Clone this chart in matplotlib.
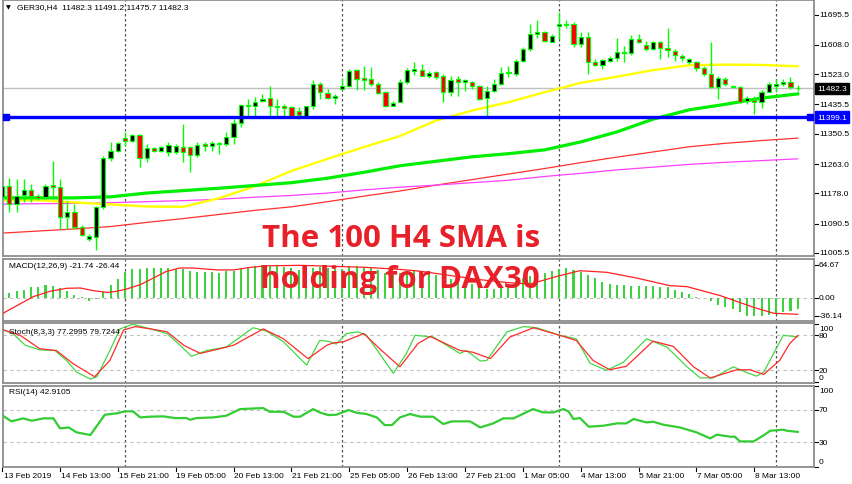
import matplotlib
matplotlib.use('Agg')
import matplotlib.pyplot as plt
from matplotlib.patches import Rectangle
import numpy as np

plt.rcParams['font.family'] = ['Liberation Sans', 'DejaVu Sans']

# ---------------- data ----------------
opens = [11167, 11200, 11147, 11173, 11189, 11171, 11167, 11202, 11196, 11109,
         11123, 11080, 11046, 11051, 11138, 11280, 11302, 11338, 11331, 11347,
         11280, 11309, 11300, 11297, 11297, 11312, 11312, 11289, 11321, 11316,
         11321, 11321, 11341, 11382, 11430, 11430, 11446, 11453, 11432, 11430,
         11427, 11417, 11401, 11431, 11495, 11468, 11453, 11480, 11488, 11536,
         11511, 11509, 11495, 11473, 11432, 11444, 11500, 11533, 11536, 11517,
         11529, 11519, 11471, 11509, 11501, 11501, 11488, 11453, 11475, 11495,
         11527, 11524, 11562, 11596, 11639, 11645, 11617, 11664, 11666, 11669,
         11611, 11630, 11559, 11550, 11562, 11569, 11585, 11585, 11625, 11608,
         11596, 11617, 11598, 11591, 11577, 11558, 11558, 11540, 11524, 11485,
         11509, 11490, 11485, 11446, 11449, 11442, 11473, 11490, 11495, 11501,
         11482.3]
highs = [11205, 11222, 11220, 11220, 11205, 11176, 11205, 11273, 11220, 11157,
         11147, 11087, 11060, 11142, 11287, 11326, 11328, 11355, 11350, 11350,
         11321, 11312, 11316, 11326, 11321, 11379, 11316, 11326, 11326, 11331,
         11326, 11355, 11393, 11437, 11451, 11456, 11466, 11488, 11451, 11437,
         11432, 11428, 11432, 11507, 11500, 11480, 11466, 11511, 11538, 11538,
         11548, 11543, 11501, 11475, 11446, 11509, 11540, 11559, 11553, 11533,
         11533, 11524, 11519, 11517, 11509, 11504, 11492, 11488, 11509, 11543,
         11548, 11567, 11601, 11669, 11681, 11649, 11640, 11704, 11681, 11674,
         11645, 11645, 11567, 11567, 11577, 11627, 11606, 11637, 11640, 11620,
         11620, 11620, 11656, 11596, 11582, 11569, 11562, 11548, 11617, 11519,
         11514, 11492, 11488, 11459, 11461, 11478, 11500, 11509, 11509, 11514,
         11491.2]
lows = [11162, 11123, 11124, 11153, 11153, 11160, 11162, 11162, 11075, 11075,
        11075, 11054, 11041, 11015, 11133, 11273, 11297, 11316, 11326, 11254,
        11268, 11297, 11297, 11287, 11292, 11268, 11239, 11283, 11302, 11302,
        11292, 11316, 11321, 11370, 11398, 11401, 11442, 11398, 11398, 11396,
        11398, 11393, 11398, 11422, 11451, 11451, 11437, 11480, 11485, 11478,
        11478, 11490, 11466, 11427, 11430, 11442, 11495, 11521, 11517, 11511,
        11509, 11442, 11461, 11461, 11475, 11480, 11448, 11401, 11471, 11492,
        11514, 11517, 11558, 11591, 11627, 11616, 11616, 11625, 11656, 11601,
        11601, 11524, 11548, 11538, 11558, 11562, 11558, 11579, 11614, 11591,
        11594, 11567, 11572, 11562, 11562, 11553, 11533, 11517, 11482, 11451,
        11488, 11484, 11440, 11437, 11408, 11424, 11471, 11471, 11488, 11480,
        11475.7]
closes = [11200, 11147, 11171, 11189, 11171, 11164, 11200, 11196, 11109, 11123,
          11080, 11058, 11056, 11138, 11280, 11302, 11324, 11331, 11347, 11280,
          11309, 11302, 11312, 11318, 11316, 11297, 11290, 11318, 11316, 11324,
          11324, 11340, 11382, 11434, 11434, 11444, 11451, 11430, 11427, 11426,
          11403, 11405, 11431, 11495, 11471, 11454, 11461, 11488, 11533, 11509,
          11507, 11495, 11469, 11430, 11440, 11500, 11536, 11538, 11519, 11527,
          11514, 11471, 11507, 11501, 11506, 11488, 11451, 11475, 11495, 11527,
          11530, 11562, 11596, 11640, 11645, 11620, 11635, 11669, 11669, 11611,
          11630, 11559, 11550, 11564, 11569, 11587, 11588, 11625, 11616, 11596,
          11616, 11598, 11594, 11579, 11569, 11567, 11540, 11524, 11485, 11511,
          11495, 11485, 11442, 11453, 11444, 11471, 11495, 11495, 11501, 11485,
          11482.3]

ma_bars = [0, 5, 10, 15, 20, 25, 30, 35, 40, 45, 50, 55, 60, 65, 70, 75, 80, 85,
           90, 95, 100, 105, 110]
ma_yellow = [11159, 11158, 11152, 11146, 11140, 11139, 11164, 11199, 11243, 11278,
             11312, 11344, 11389, 11418, 11442, 11471, 11498, 11516, 11535, 11549,
             11551, 11550, 11546]
ma_green = [11165, 11165, 11165, 11168, 11179, 11186, 11193, 11201, 11209, 11222,
            11239, 11258, 11271, 11284, 11293, 11304, 11327, 11356, 11393, 11420,
            11436, 11454, 11466]
ma_red = [11063, 11069, 11075, 11082, 11094, 11105, 11117, 11129, 11139, 11154,
          11170, 11185, 11202, 11218, 11234, 11250, 11267, 11283, 11298, 11313,
          11323, 11331, 11338]
ma_magenta = [11147, 11148, 11149, 11151, 11154, 11157, 11161, 11167, 11172, 11179,
              11188, 11196, 11202, 11209, 11216, 11227, 11236, 11246, 11254, 11262,
              11268, 11273, 11278]

support_level = 11399.1
last_price = 11482.3

macd_hist = [7.8, 9.1, 13, 15.7, 20.9, 22, 26, 24, 19.6, 14.4,
             6.5, 1, -5.2, -2, 11, 26, 37, 50, 56, 57,
             58.8, 58, 58.8, 58.8, 57, 57, 53.5, 50, 50, 50,
             48, 53.5, 53.5, 57, 61, 63.5, 64.67, 63.5, 63, 61,
             58, 55, 53, 58, 60, 58, 56, 57, 62, 63,
             61, 59, 55, 48, 45, 48, 53, 55, 52, 49,
             46, 40, 37, 34, 31, 27, 20, 17, 18, 22,
             27, 33, 39, 44, 47, 48.3, 52.2, 56.8, 58.8, 54.9,
             50.3, 45.7, 39.2, 30.7, 27.4, 26.1, 25.5, 24.2, 22.9, 22.9,
             22.9, 22.2, 20.9, 15.7, 12.4, 7.8, 2.6, 0.5, -6.5, -13,
             -18.3, -21.5, -28, -34.6, -36.14, -36.1, -32.7, -31.3, -28, -26.1,
             -21.74]
macd_sig_bars = [0, 4.3, 6.6, 8.9, 10.8, 12.6, 14.5, 15.8, 17.2, 19.1, 20.9, 22.7,
                 24.6, 26.4, 29.7, 32, 34.3, 36.6, 41.2, 45.8, 50.4, 55, 57.5, 62,
                 66, 70, 73, 77.1, 79.9, 83.6, 87.7, 92.3, 94.7, 99.3, 103.9,
                 106.7, 110]
macd_sig = [-31, 2.6, 13, 19, 19.6, 14.4, 11, 13, 17.6, 26, 39, 52,
            58.8, 58.8, 55, 55, 60, 63, 64, 62, 60, 56, 53, 44,
            36, 30, 27.4, 43.8, 53.5, 50.3, 39.2, 24.2, 22.2, 4.6, -18.3,
            -30, -32]

stoch_k_bars = [0, 1.5, 3.2, 5.2, 7.3, 8.9, 10.3, 12.2, 13.1, 14.9, 16.3, 18.1,
                20.5, 22.8, 24.6, 26.2, 28.3, 31.0, 34.7, 36.6, 38.9, 42.1, 43.9,
                45.1, 46.2, 47.6, 49.2, 50.4, 54.1, 55.9, 57.1, 59.6, 63.3, 64.2,
                66.1, 67.0, 69.8, 72.1, 73.9, 77.1, 79.4, 81.3, 83.6, 85.9, 89.1,
                91.9, 94.7, 96.5, 98.3, 101.1, 103.0, 104.3, 105.3, 108.0, 110]
stoch_k = [90, 83, 63, 55, 54, 37, 17, 5, 9, 54, 91, 99,
           91, 83, 63, 44, 54, 60, 93, 87, 69, 29, 71,
           70, 65, 83, 86, 80, 15, 49, 80, 77, 49, 54,
           36, 37, 86, 95, 93, 80, 74, 32, 20, 34, 74,
           60, 26, 7, 7, 26, 16, 10, 17, 80, 77.3]
stoch_d_bars = [0, 2.5, 5.2, 7.5, 9.8, 12.8, 14.9, 16.8, 18.4, 20.5, 22.8, 25.1,
                27.4, 30.1, 32.0, 36.1, 38.9, 42.3, 44.9, 45.8, 47.2, 50.0, 52.2,
                55.0, 57.5, 59.2, 63.3, 65.1, 67.5, 70.2, 73.5, 77.1, 79.4, 81.7,
                84.0, 86.3, 90.0, 92.8, 95.6, 97.9, 101.6, 103.4, 105.3, 107.5,
                108.9, 110]
stoch_d = [90, 80, 57, 54, 31.5, 9, 37, 89, 95, 91, 86, 63,
           49, 57, 63, 91, 74, 40, 63, 67, 69, 83, 57,
           26, 66, 78, 54, 51, 40, 77, 93, 80, 71, 37,
           21, 27, 70, 61, 26, 7, 21, 21, 13, 37,
           66, 79.7]

rsi_bars = [0.1, 1.3, 2.9, 4.1, 5.7, 7.1, 8.0, 9.2, 10.3, 12.2, 14.2, 15.8, 17.0,
            18.1, 19.1, 20.4, 22.3, 23.9, 25.5, 26.0, 26.9, 29.2, 31.0, 32.9, 35.2,
            36.1, 37.0, 38.9, 40.3, 41.2, 43.0, 43.9, 45.1, 46.2, 47.9, 49.0, 50.4,
            51.8, 52.9, 53.9, 55.0, 56.4, 57.8, 59.6, 61.0, 62.2, 64.7, 66.1, 67.9,
            69.3, 70.7, 73.4, 74.8, 76.2, 77.6, 78.3, 79.0, 79.9, 81.1, 83.1, 85.0,
            86.3, 87.3, 89.1, 90.0, 91.4, 93.7, 96.0, 97.9, 98.8, 100.7, 101.3,
            102.0, 103.9, 105.2, 106.2, 108.0, 108.5, 110]
rsi = [62.9, 55.9, 59.6, 56.7, 59.6, 59.6, 47.2, 48.4, 42.3, 39, 64.1, 65.8, 68.3,
       68.3, 60.8, 61.7, 62.1, 60, 60, 57.9, 60, 60.8, 62.9, 71.1, 72,
       72.4, 67.8, 67.8, 61.7, 61.7, 71.1, 67, 63.7, 64.1, 69.9, 66.6, 65,
       60.8, 51.3, 51.3, 60.8, 65, 61.7, 61.7, 52.6, 55.9, 55.9, 48.4, 53.4,
       59.6, 59.6, 71.1, 67, 67, 71.1, 68.3, 58.8, 60, 49.3, 50.5, 53.4,
       53.4, 58.8, 54.6, 55.5, 51.8, 48.4, 42.3, 34.8, 39.4, 36.9, 36.9,
       31.1, 31.1, 38.1, 44.3, 45.6, 44.3, 42.9]

separator_bars = [17, 47, 77, 107]
date_bars = [0, 8, 16, 24, 32, 40, 48, 56, 64, 72, 80, 88, 96, 104]
date_labels = ['13 Feb 2019', '14 Feb 13:00', '15 Feb 21:00', '19 Feb 05:00',
               '20 Feb 13:00', '21 Feb 21:00', '25 Feb 05:00', '26 Feb 13:00',
               '27 Feb 21:00', '1 Mar 05:00', '4 Mar 13:00', '5 Mar 21:00',
               '7 Mar 05:00', '8 Mar 13:00']
price_ticks = [11695.5, 11608.0, 11523.0, 11435.5, 11350.5, 11263.0, 11178.0,
               11090.5, 11005.5]

# ---------------- layout ----------------
W, H = 852, 485
fig = plt.figure(figsize=(W / 100, H / 100), dpi=100)
fig.patch.set_facecolor('white')

def box(x0, y0, x1, y1):
    return [x0 / W, 1 - y1 / H, (x1 - x0) / W, (y1 - y0) / H]

XL = ((3 - 2.1) / 7.233, (814 - 2.1) / 7.233)
ax_main = fig.add_axes(box(3, 1, 814, 257))
ax_macd = fig.add_axes(box(3, 260, 814, 322))
ax_sto = fig.add_axes(box(3, 324, 814, 384))
ax_rsi = fig.add_axes(box(3, 387, 814, 468))
ax_main.set_ylim(10996.7, 11738)
ax_macd.set_ylim(-45.1, 76.4)
ax_sto.set_ylim(-1.7, 101.1)
ax_rsi.set_ylim(-0.6, 99.7)

for ax in (ax_main, ax_macd, ax_sto, ax_rsi):
    ax.set_xlim(*XL)
    ax.set_xticks([])
    ax.set_yticks([])
    ax.set_facecolor('white')
    for s in ax.spines.values():
        s.set_color('#8c8c8c')
        s.set_linewidth(1.3)
    for b in separator_bars:
        ax.axvline(b, color='#505050', lw=0.9, ls=(0, (2, 2)), zorder=1)

GRID = dict(color='#c0c0c0', lw=0.8, ls=(0, (3, 3)), zorder=1)
LBL = dict(fontsize=6, color='black', va='center', ha='left', clip_on=False)

def right_labels(ax, vals, texts, pos=None):
    tr = ax.get_yaxis_transform()
    for k, (v, t) in enumerate(zip(vals, texts)):
        yp = v if pos is None else pos[k]
        ax.plot([1.0, 1.0 + 4 / 811], [v, v], color='black', lw=0.8,
                transform=tr, clip_on=False)
        ax.text(1.0 + 5 / 811, yp, t, transform=tr, **LBL)

# ---------------- main chart ----------------
ax = ax_main
ax.axhline(last_price, color='#c0c0c0', lw=1, zorder=1)
ax.plot(ma_bars, ma_red, color='#ff3030', lw=0.9, zorder=2)
ax.plot(ma_bars, ma_magenta, color='#ff40ff', lw=0.9, zorder=2)
ax.plot(ma_bars, ma_yellow, color='#ffff00', lw=1.7, zorder=2)
ax.plot(ma_bars, ma_green, color='#00ee00', lw=2.3, zorder=2)

o = np.array(opens); hi = np.array(highs); lo = np.array(lows); c = np.array(closes)
idx = np.arange(len(o))
ax.vlines(idx, lo, hi, color='#00ff00', lw=1, zorder=4)
bottom = np.minimum(o, c)
height = np.maximum(np.abs(c - o), 1.5)
fills = np.where(c >= o, 'black', '#ff0000')
ax.bar(idx, height, bottom=bottom, width=0.58, color=fills, edgecolor='#00ff00',
       linewidth=0.8, zorder=5)

ax.axhline(support_level, color='#0000ff', lw=2.4, zorder=6)
ax.plot([XL[0] + 0.35, XL[1] - 0.6], [support_level] * 2, ls='none', marker='s',
        ms=4, mfc='#0000ff', mec='#0000ff', zorder=7, clip_on=False)

right_labels(ax, price_ticks, ['%.1f' % v for v in price_ticks])
tr = ax.get_yaxis_transform()
ax.text(1.0 + 3 / 811, last_price, '%.1f' % last_price, transform=tr, fontsize=6,
        color='white', va='center', ha='left', clip_on=False, zorder=10,
        bbox=dict(boxstyle='square,pad=0.25', fc='black', ec='black'))
ax.text(1.0 + 3 / 811, support_level, '%.1f' % support_level, transform=tr,
        fontsize=6, color='white', va='center', ha='left', clip_on=False, zorder=10,
        bbox=dict(boxstyle='square,pad=0.25', fc='#0000ff', ec='#0000ff'))

fig.text(6 / W, 1 - 7.5 / H, '\u25bc', fontsize=4.5, family='DejaVu Sans',
         va='center', ha='left')
fig.text(17 / W, 1 - 7.5 / H, 'GER30,H4  11482.3 11491.2 11475.7 11482.3',
         fontsize=6, va='center', ha='left')

# ---------------- MACD ----------------
ax = ax_macd
ax.axhline(0, **GRID)
ax.bar(idx, macd_hist, width=0.28, color='#3fd23f', zorder=2)
ax.plot(macd_sig_bars, macd_sig, color='#ff2020', lw=0.9, zorder=3)
right_labels(ax, [64.67, 0.0, -36.14], ['64.67', '0.00', '-36.14'],
             pos=[64.67, 0.0, -34])
ax.text(6 / 811, 1 - 7 / 62, 'MACD(12,26,9) -21.74 -26.44', transform=ax.transAxes,
        fontsize=6, va='center', ha='left')

# ---------------- Stochastic ----------------
ax = ax_sto
ax.axhline(80, **GRID)
ax.axhline(20, **GRID)
ax.plot(stoch_k_bars, stoch_k, color='#44d844', lw=0.9, zorder=3)
ax.plot(stoch_d_bars, stoch_d, color='#ff2a2a', lw=0.9, zorder=3)
right_labels(ax, [100, 80, 20, 0], ['100', '80', '20', '0'], pos=[91, 80, 20, 8])
ax.text(6 / 811, 1 - 9 / 60, 'Stoch(8,3,3) 77.2995 79.7244', transform=ax.transAxes,
        fontsize=6, va='center', ha='left')

# ---------------- RSI ----------------
ax = ax_rsi
ax.axhline(70, **GRID)
ax.axhline(30, **GRID)
ax.plot(rsi_bars, rsi, color='#33cc33', lw=1.6, zorder=3)
right_labels(ax, [100, 70, 30, 0], ['100', '70', '30', '0'], pos=[94.7, 70, 30, 5.6])
ax.text(6 / 811, 1 - 6 / 81, 'RSI(14) 42.9105', transform=ax.transAxes,
        fontsize=6, va='center', ha='left')

xtr = ax.get_xaxis_transform()
for b, lab in zip(date_bars, date_labels):
    ax.plot([b, b], [0, -4 / 81], color='black', lw=0.8, transform=xtr, clip_on=False)
    ax.text(max(b, XL[0]) + 0.1, -9 / 81, lab, transform=xtr, fontsize=6,
            va='center', ha='left', clip_on=False)

# ---------------- annotation ----------------
red_txt = '#e8202a'
fig.text(401 / W, 1 - 247 / H, 'The 100 H4 SMA is', fontsize=22.5, fontweight='bold',
         family=['Open Sans', 'DejaVu Sans'], color=red_txt, ha='center',
         va='baseline', zorder=20)
fig.text(400 / W, 1 - 288 / H, 'holding for DAX30', fontsize=22.5, fontweight='bold',
         family=['Open Sans', 'DejaVu Sans'], color=red_txt, ha='center',
         va='baseline', zorder=20)

fig.savefig('out.png', dpi=100, facecolor='white')
